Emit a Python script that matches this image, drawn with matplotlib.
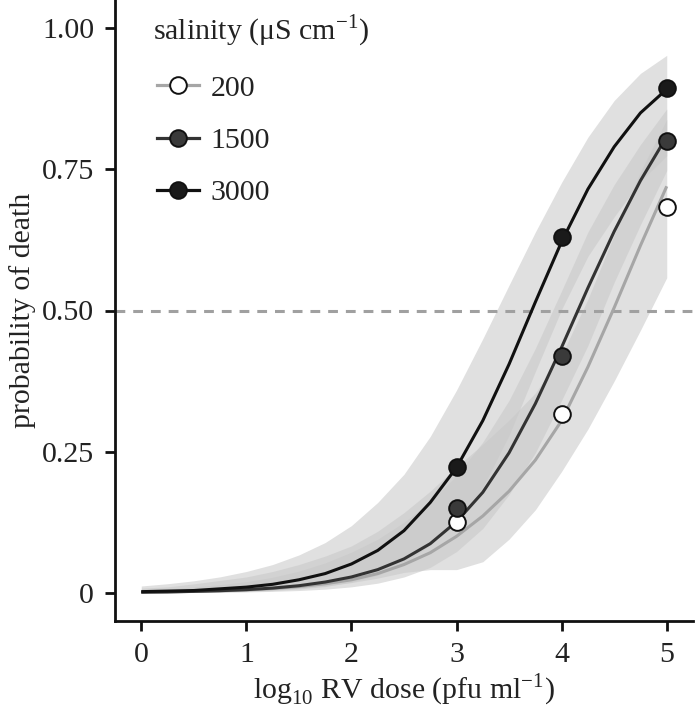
import matplotlib
matplotlib.use("Agg")
import matplotlib.pyplot as plt
from matplotlib.lines import Line2D

plt.rcParams['font.family'] = ['Liberation Serif', 'DejaVu Serif']
plt.rcParams['mathtext.fontset'] = 'custom'
plt.rcParams['mathtext.rm'] = 'Liberation Serif'

# dose grid (log10 pfu/ml) used for fitted curves and bands
dose_grid = [0, 0.25, 0.5, 0.75, 1, 1.25, 1.5, 1.75, 2, 2.25, 2.5,
             2.75, 3, 3.25, 3.5, 3.75, 4, 4.25, 4.5, 4.75, 5]

salinity = ['200', '1500', '3000']

# fitted probability of death
fit_200 = [0.001, 0.0015, 0.0024, 0.0035, 0.005, 0.0075, 0.011, 0.016, 0.023, 0.034, 0.05,
           0.071, 0.10, 0.136, 0.18, 0.235, 0.305, 0.40, 0.505, 0.615, 0.72]
fit_1500 = [0.001, 0.0015, 0.0025, 0.0037, 0.0055, 0.0083, 0.0125, 0.019, 0.028, 0.041, 0.06,
            0.087, 0.126, 0.178, 0.248, 0.335, 0.435, 0.54, 0.64, 0.73, 0.808]
fit_3000 = [0.002, 0.003, 0.004, 0.007, 0.010, 0.015, 0.023, 0.034, 0.051, 0.075, 0.11,
            0.16, 0.222, 0.305, 0.405, 0.515, 0.622, 0.715, 0.79, 0.85, 0.892]

# confidence bands
lo_200 = [0.0008, 0.0011, 0.0017, 0.0025, 0.0037, 0.0055, 0.008, 0.012, 0.018, 0.026, 0.036,
          0.041, 0.041, 0.055, 0.095, 0.147, 0.215, 0.29, 0.375, 0.465, 0.558]
hi_200 = [0.0082, 0.0105, 0.0158, 0.0219, 0.028, 0.0377, 0.05, 0.065, 0.083, 0.109, 0.142,
          0.18, 0.223, 0.263, 0.306, 0.354, 0.421, 0.52, 0.634, 0.746, 0.839]
lo_1500 = [0.0002, 0.0003, 0.0006, 0.0009, 0.0015, 0.0025, 0.004, 0.0064, 0.0105, 0.017, 0.028,
           0.045, 0.073, 0.114, 0.174, 0.248, 0.341, 0.438, 0.55, 0.652, 0.748]
hi_1500 = [0.0049, 0.0068, 0.0106, 0.0145, 0.0198, 0.0276, 0.0384, 0.053, 0.072, 0.095, 0.125,
           0.161, 0.208, 0.267, 0.341, 0.433, 0.535, 0.639, 0.723, 0.794, 0.857]
lo_3000 = [0.0003, 0.0005, 0.0007, 0.0015, 0.0022, 0.0038, 0.0067, 0.011, 0.019, 0.031, 0.051,
           0.085, 0.125, 0.187, 0.279, 0.392, 0.502, 0.596, 0.666, 0.729, 0.774]
hi_3000 = [0.012, 0.016, 0.0212, 0.0282, 0.0377, 0.05, 0.067, 0.089, 0.119, 0.16, 0.21,
           0.277, 0.359, 0.45, 0.545, 0.639, 0.727, 0.807, 0.872, 0.92, 0.952]

# observed proportions
obs_dose = [3, 4, 5]
obs_200 = [0.125, 0.316, 0.684]
obs_1500 = [0.151, 0.42, 0.80]
obs_3000 = [0.223, 0.631, 0.894]

line_cols = ['#a6a6a6', '#333333', '#111111']
face_cols = ['white', '#3a3a3a', '#1a1a1a']
FS = 21.5

fig = plt.figure(figsize=(6.97, 7.17), dpi=100)
ax = fig.add_axes([115 / 697, 96 / 717, 578 / 697, 621 / 717])

for lo, hi in [(lo_200, hi_200), (lo_1500, hi_1500), (lo_3000, hi_3000)]:
    ax.fill_between(dose_grid, lo, hi, color='#c8c8c8', alpha=0.56, lw=0, zorder=1)

ax.axhline(0.5, color='#a0a0a0', lw=2.2, ls=(0, (3.2, 2.6)), zorder=2)

fits = [fit_200, fit_1500, fit_3000]
obs = [obs_200, obs_1500, obs_3000]
for i in range(3):
    ax.plot(dose_grid, fits[i], color=line_cols[i], lw=2.2, zorder=3,
            solid_capstyle='butt', solid_joinstyle='round')
for i in range(3):
    ax.plot(obs_dose, obs[i], 'o', ms=12, mfc=face_cols[i], mec='#111111',
            mew=1.4, zorder=4)

ax.set_xlim(-0.25, 5.25)
ax.set_ylim(-0.05, 1.05)
ax.set_xticks([0, 1, 2, 3, 4, 5])
ax.set_yticks([0, 0.25, 0.5, 0.75, 1.0])
ax.set_yticklabels(['0', '0.25', '0.50', '0.75', '1.00'])
for s in ['top', 'right']:
    ax.spines[s].set_visible(False)
for s in ['left', 'bottom']:
    ax.spines[s].set_linewidth(2.0)
    ax.spines[s].set_color('#111111')
ax.tick_params(direction='out', length=7, width=2.0, color='#111111',
               labelsize=FS, labelcolor='#222222', pad=8)
ax.set_xlabel(r'log$_{\mathregular{10}}$ RV dose (pfu ml$^{\mathregular{-1}}$)',
              fontsize=FS, color='#222222', labelpad=3)
ax.set_ylabel('probability of death', fontsize=FS, color='#222222', labelpad=4)

handles = [Line2D([], [], color=line_cols[i], lw=2.3, marker='o', ms=12,
                  mfc=face_cols[i], mec='#111111', mew=1.4) for i in range(3)]
leg = ax.legend(handles, salinity, loc='upper left',
                bbox_to_anchor=(157 / 697, 1 - 75 / 717), bbox_transform=fig.transFigure,
                frameon=False, fontsize=FS,
                handlelength=1.4, handletextpad=0.4, labelspacing=0.85,
                borderpad=0, borderaxespad=0)
for t in leg.get_texts():
    t.set_color('#222222')
fig.text(153 / 697, 1 - 40 / 717, r'salinity (μS cm$^{\mathregular{-1}}$)',
         fontsize=FS, color='#222222', ha='left', va='baseline')

fig.savefig('out.png', dpi=100)
